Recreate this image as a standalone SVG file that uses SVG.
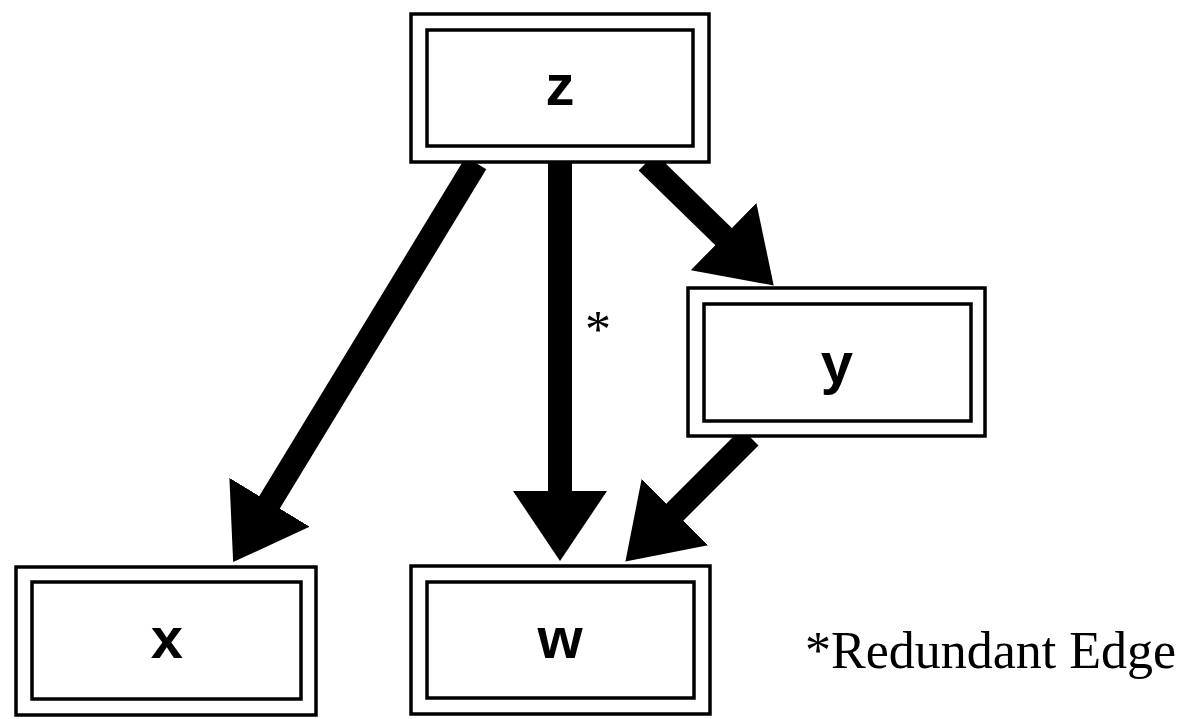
<svg xmlns="http://www.w3.org/2000/svg" width="1189" height="719" viewBox="0 0 1189 719">
  <style>
    .outer { fill: #fff; stroke: #000; stroke-width: 3.5; }
    .inner { fill: none; stroke: #000; stroke-width: 3.5; }
    .label { font-family: "Liberation Sans", Arial, sans-serif; font-weight: bold; font-size: 58px; text-anchor: middle; fill: #000; }
    .note { font-family: "Liberation Serif", "Times New Roman", serif; font-size: 52px; fill: #000; }
    .edge { stroke: #000; stroke-width: 24; fill: none; marker-end: url(#head); }
  </style>
  <defs>
    <marker id="head" markerUnits="userSpaceOnUse" viewBox="0 -47 70 94" markerWidth="70" markerHeight="94" refX="2" refY="0" orient="auto">
      <path d="M0,-47 L70,0 L0,47 Z" fill="#000"/>
    </marker>
  </defs>
  <rect width="1189" height="719" fill="#fff"/>

  <g id="connectors">
    <line class="edge" x1="476" y1="163" x2="268.5" y2="504"/>
    <line class="edge" x1="560" y1="163" x2="560" y2="493"/>
    <line class="edge" x1="647" y1="162" x2="725" y2="238"/>
    <line class="edge" x1="750" y1="437" x2="673.5" y2="513.5"/>
    <text class="note" x="585" y="347">*</text>
  </g>

  <g id="node-z">
    <rect class="outer" x="411" y="14" width="298" height="148"/>
    <rect class="inner" x="427" y="30" width="266" height="116"/>
    <text class="label" x="560" y="105">z</text>
  </g>

  <g id="node-y">
    <rect class="outer" x="688" y="288" width="297" height="148"/>
    <rect class="inner" x="704" y="304" width="267" height="117"/>
    <text class="label" x="837" y="383">y</text>
  </g>

  <g id="node-x">
    <rect class="outer" x="16" y="567" width="300" height="148"/>
    <rect class="inner" x="32" y="582" width="269" height="117"/>
    <text class="label" x="167" y="658">x</text>
  </g>

  <g id="node-w">
    <rect class="outer" x="411" y="566" width="299" height="148"/>
    <rect class="inner" x="427" y="582" width="267" height="116"/>
    <text class="label" x="560" y="658">w</text>
  </g>

  <text class="note" x="805" y="668">*Redundant Edge</text>
</svg>
